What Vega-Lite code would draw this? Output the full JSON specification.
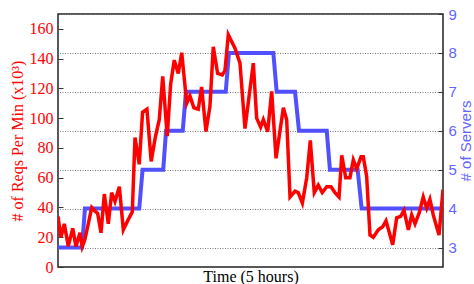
{
  "$schema": "https://vega.github.io/schema/vega-lite/v6.json",
  "width": 385,
  "height": 253,
  "autosize": {"type": "none"},
  "padding": {"left": 58, "top": 14, "right": 31, "bottom": 17},
  "background": "white",
  "config": {
    "view": {"stroke": "#222", "strokeWidth": 1.5},
    "axis": {"domain": false}
  },
  "datasets": {
    "reqs": [
      {"t": 0, "v": 34}, {"t": 2.3, "v": 20}, {"t": 4.9, "v": 29}, {"t": 8.0, "v": 14},
      {"t": 11.5, "v": 26}, {"t": 14.0, "v": 13.7}, {"t": 17.1, "v": 23}, {"t": 18.9, "v": 13.7},
      {"t": 21.0, "v": 18.6}, {"t": 26.3, "v": 40}, {"t": 28.3, "v": 38}, {"t": 30.9, "v": 36},
      {"t": 33.5, "v": 23}, {"t": 36.1, "v": 49}, {"t": 39.2, "v": 29}, {"t": 41.8, "v": 50},
      {"t": 44.4, "v": 44}, {"t": 47.8, "v": 54}, {"t": 50.9, "v": 25}, {"t": 54.8, "v": 32},
      {"t": 57.9, "v": 37}, {"t": 60.0, "v": 87}, {"t": 63.3, "v": 69}, {"t": 65.9, "v": 104},
      {"t": 69.3, "v": 106}, {"t": 72.6, "v": 71}, {"t": 76.0, "v": 88}, {"t": 78.9, "v": 99},
      {"t": 81.6, "v": 128}, {"t": 85.1, "v": 88}, {"t": 87.8, "v": 123}, {"t": 90.6, "v": 139},
      {"t": 93.7, "v": 130}, {"t": 96.4, "v": 144}, {"t": 100.3, "v": 110}, {"t": 102.8, "v": 115},
      {"t": 105.9, "v": 107}, {"t": 109.3, "v": 106}, {"t": 111.9, "v": 121}, {"t": 115.3, "v": 91},
      {"t": 118.4, "v": 108}, {"t": 121.0, "v": 148}, {"t": 124.4, "v": 130}, {"t": 128.0, "v": 129},
      {"t": 130.1, "v": 132}, {"t": 132.7, "v": 156}, {"t": 137.9, "v": 147}, {"t": 141.8, "v": 137},
      {"t": 145.7, "v": 93}, {"t": 152.2, "v": 137}, {"t": 154.8, "v": 100}, {"t": 157.9, "v": 94},
      {"t": 160.0, "v": 99}, {"t": 163.4, "v": 91}, {"t": 166.5, "v": 118}, {"t": 169.9, "v": 73},
      {"t": 175.6, "v": 107}, {"t": 178.2, "v": 99}, {"t": 180.8, "v": 47}, {"t": 184.7, "v": 51},
      {"t": 187.2, "v": 50}, {"t": 190.4, "v": 43}, {"t": 193.8, "v": 60}, {"t": 196.6, "v": 85},
      {"t": 199.7, "v": 50}, {"t": 202.8, "v": 55}, {"t": 205.9, "v": 50}, {"t": 209.4, "v": 54},
      {"t": 212.7, "v": 54}, {"t": 215.8, "v": 50}, {"t": 219.0, "v": 47}, {"t": 221.1, "v": 75},
      {"t": 224.2, "v": 60}, {"t": 227.5, "v": 60}, {"t": 230.1, "v": 72}, {"t": 232.8, "v": 66},
      {"t": 236.1, "v": 74}, {"t": 237.9, "v": 74}, {"t": 240.5, "v": 61}, {"t": 243.1, "v": 21.5},
      {"t": 245.7, "v": 20}, {"t": 249.6, "v": 25}, {"t": 253.0, "v": 27}, {"t": 255.6, "v": 31},
      {"t": 260.8, "v": 15}, {"t": 263.9, "v": 33}, {"t": 267.0, "v": 34}, {"t": 269.6, "v": 38},
      {"t": 273.0, "v": 25}, {"t": 275.6, "v": 35}, {"t": 278.2, "v": 29}, {"t": 281.5, "v": 36.5},
      {"t": 284.6, "v": 47}, {"t": 287.3, "v": 39.5}, {"t": 289.8, "v": 45.5}, {"t": 292.4, "v": 35},
      {"t": 296.9, "v": 21.5}, {"t": 300, "v": 52}
    ],
    "servers": [
      {"t": 0, "s": 3}, {"t": 18.7, "s": 3}, {"t": 21.0, "s": 4}, {"t": 63.3, "s": 4},
      {"t": 65.9, "s": 5}, {"t": 82.0, "s": 5}, {"t": 84.2, "s": 6}, {"t": 97.2, "s": 6},
      {"t": 99.7, "s": 7}, {"t": 130.7, "s": 7}, {"t": 133.2, "s": 8}, {"t": 167.8, "s": 8},
      {"t": 170.4, "s": 7}, {"t": 184.7, "s": 7}, {"t": 187.8, "s": 6}, {"t": 209.4, "s": 6},
      {"t": 211.9, "s": 5}, {"t": 233.5, "s": 5}, {"t": 236.6, "s": 4}, {"t": 300, "s": 4}
    ]
  },
  "layer": [
    {
      "data": {"name": "servers"},
      "mark": {"type": "line", "color": "#5050ff", "strokeWidth": 4, "strokeJoin": "miter", "clip": true},
      "encoding": {
        "x": {
          "field": "t", "type": "quantitative",
          "scale": {"domain": [0, 300], "nice": false, "zero": false},
          "axis": {"labels": false, "ticks": false, "grid": false, "title": "Time (5 hours)",
                   "titleFont": "Liberation Serif", "titleFontSize": 16, "titleFontWeight": "normal",
                   "titleColor": "#000", "titlePadding": 1}
        },
        "y": {
          "field": "s", "type": "quantitative",
          "scale": {"domain": [2.5, 9], "nice": false, "zero": false},
          "axis": {"orient": "right", "values": [3, 4, 5, 6, 7, 8, 9], "grid": true,
                   "gridColor": "#777", "gridDash": [1, 1.5], "gridWidth": 1, "gridOpacity": 1,
                   "tickSize": -5, "tickColor": "#333", "tickWidth": 1, "labelPadding": 10,
                   "labelFont": "Liberation Sans", "labelFontSize": 15, "labelColor": "#6464ff",
                   "title": "# of Servers", "titleFont": "Liberation Sans", "titleFontSize": 15,
                   "titleFontWeight": "normal", "titleColor": "#6464ff", "titleAngle": -90,
                   "titlePadding": 17}
        }
      }
    },
    {
      "data": {"name": "reqs"},
      "mark": {"type": "line", "color": "#ff0000", "strokeWidth": 3.5, "strokeJoin": "miter", "clip": true},
      "encoding": {
        "x": {"field": "t", "type": "quantitative"},
        "y": {
          "field": "v", "type": "quantitative",
          "scale": {"domain": [0, 170], "nice": false, "zero": true},
          "axis": {"orient": "left", "values": [0, 20, 40, 60, 80, 100, 120, 140, 160], "grid": false,
                   "tickSize": -5, "tickColor": "#333", "tickWidth": 1, "labelPadding": 10,
                   "labelFont": "Liberation Serif", "labelFontSize": 16, "labelColor": "#ff0000",
                   "title": "# of Reqs Per Min (x10³)", "titleFont": "Liberation Serif",
                   "titleFontSize": 16, "titleFontWeight": "normal", "titleColor": "#ff0000",
                   "titleAngle": -90, "titlePadding": 4}
        }
      }
    }
  ],
  "resolve": {"scale": {"y": "independent"}}
}
